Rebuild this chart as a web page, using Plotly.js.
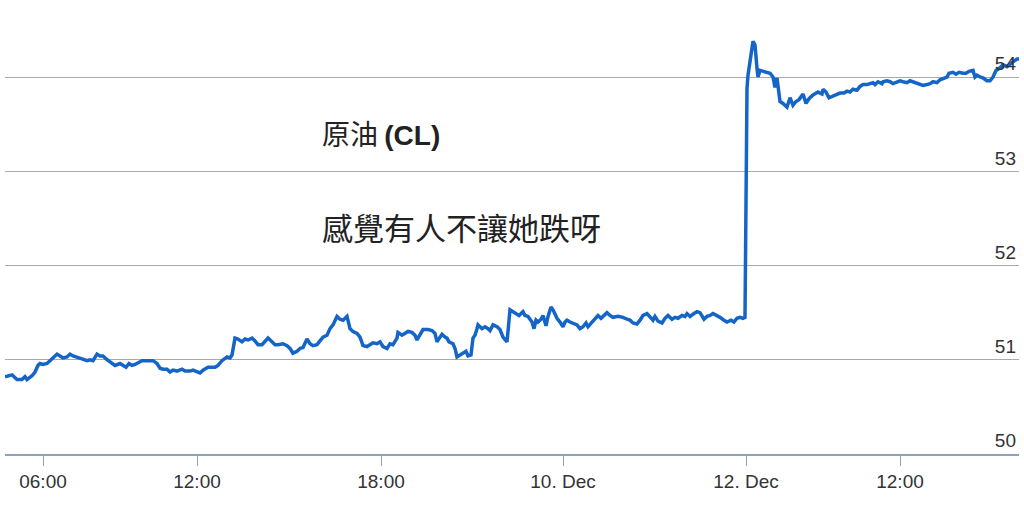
<!DOCTYPE html>
<html>
<head>
<meta charset="utf-8">
<script src="https://cdn.plot.ly/plotly-3.0.1.min.js"></script>
<style>
html,body{margin:0;padding:0;background:#fff;}
#chart{width:1024px;height:513px;}
</style>
</head>
<body>
<div id="chart"></div>
<script>
// ordinal positions along the (gap-skipping) time axis
const pos = [0,7,12,17,20,22,27,30,33,35,38,42,45,48,52,55,58,62,65,68,72,77,82,85,88,92,95,98,102,105,110,115,118,121,124,127,130,133,137,142,148,152,155,158,162,165,168,172,177,180,185,188,192,195,198,203,210,
213,217,222,225,227,230,233,237,240,243,247,250,253,257,260,263,267,270,273,278,282,285,288,292,295,298,302,305,308,312,315,318,322,325,328,332,335,338,342,345,348,352,355,358,362,365,368,372,375,378,382,385,388,392,393,397,400,403,407,
410,412,415,418,423,427,430,432,435,437,440,442,444,448,450,452,455,458,461,463,466,468,470,472,473,477,480,483,485,488,492,495,498,502,505,508,512,514,518,520,523,527,529,531,533,536,538,541,543,546,548,552,555,558,560,562,565,568,572,575,578,581,583,587,590,593,596,598,
602,605,608,613,618,622,625,628,632,635,638,642,645,648,650,653,657,660,663,667,670,673,677,680,682,685,689,692,695,699,702,705,708,712,715,719,722,726,729,732,735,738,740,
742,743,748,750,752,753,755,758,762,765,768,770,772,773,775,778,782,785,788,791,794,798,801,804,808,813,817,818,821,824,828,832,835,839,842,845,848,852,855,858,862,865,868,870,873,877,878,882,885,888,892,895,898,902,905,908,912,915,918,922,925,928,932,935,938,942,944,948,951,954,958,961,964,968,970,972,975,978,982,985,988,991,994,998,1002,1005,1008,1012,1014];

const price = [50.82,50.84,50.79,50.79,50.82,50.79,50.83,50.87,50.94,50.96,50.95,50.96,50.99,51.02,51.06,51.04,51.02,51.03,51.06,51.04,51.03,51.01,50.99,51.00,50.99,51.06,51.04,51.04,51.00,50.98,50.94,50.96,50.94,50.92,50.96,50.94,50.95,50.97,50.99,50.99,50.99,50.96,50.91,50.90,50.90,50.87,50.89,50.88,50.90,50.88,50.88,50.89,50.87,50.86,50.89,50.92,50.92,
50.94,50.99,51.03,51.02,51.05,51.23,51.22,51.19,51.22,51.21,51.23,51.20,51.16,51.16,51.19,51.23,51.19,51.16,51.16,51.17,51.15,51.12,51.07,51.09,51.12,51.13,51.22,51.17,51.15,51.16,51.20,51.24,51.26,51.33,51.37,51.46,51.43,51.42,51.46,51.33,51.30,51.28,51.24,51.15,51.14,51.16,51.18,51.17,51.19,51.14,51.12,51.17,51.16,51.23,51.29,51.26,51.28,51.30,51.29,
51.26,51.21,51.26,51.32,51.32,51.31,51.28,51.19,51.24,51.27,51.24,51.23,51.19,51.17,51.12,51.03,51.05,51.07,51.09,51.04,51.05,51.23,51.26,51.33,51.37,51.33,51.35,51.33,51.31,51.37,51.35,51.32,51.24,51.19,51.53,51.51,51.49,51.47,51.51,51.47,51.46,51.40,51.33,51.42,51.40,51.43,51.47,51.36,51.46,51.56,51.53,51.44,51.40,51.35,51.40,51.42,51.40,51.39,51.37,51.33,51.35,51.39,51.35,51.40,51.44,51.47,51.44,51.46,
51.50,51.47,51.45,51.46,51.45,51.43,51.42,51.39,51.38,51.42,51.47,51.49,51.46,51.42,51.46,51.41,51.39,51.44,51.47,51.43,51.45,51.44,51.47,51.46,51.49,51.46,51.49,51.51,51.50,51.43,51.46,51.47,51.49,51.47,51.45,51.42,51.40,51.42,51.40,51.44,51.45,51.44,51.45,
53.88,54.02,54.38,54.34,54.09,54.00,54.07,54.06,54.05,54.04,54.00,53.89,53.99,53.90,53.74,53.72,53.68,53.78,53.70,53.74,53.76,53.82,53.72,53.77,53.81,53.84,53.82,53.87,53.84,53.78,53.80,53.82,53.83,53.83,53.85,53.84,53.87,53.86,53.90,53.92,53.92,53.93,53.94,53.92,53.95,53.93,53.95,53.96,53.95,53.93,53.95,53.96,53.95,53.94,53.96,53.95,53.93,53.92,53.91,53.92,53.93,53.95,53.94,53.97,53.98,54.00,54.04,54.05,54.03,54.05,54.04,54.04,54.06,54.07,54.00,54.02,54.00,53.99,53.96,53.96,54.00,54.07,54.09,54.13,54.11,54.13,54.16,54.19,54.19];

const tickPos = [38,192,376,558,741,895];
const tickText = ['06:00','12:00','18:00','10. Dec','12. Dec','12:00'];
const yTicks = [50,51,52,53,54];
const titleText = '原油 <span style="font-family:Liberation Sans, Arial, sans-serif"><b>(CL)</b></span>';
const subtitleText = '感覺有人不讓她跌呀';

const tickFont = {family:'Liberation Sans, Arial, sans-serif', size:19, color:'#333'};

Plotly.newPlot('chart', [{
  x: pos, y: price, type:'scatter', mode:'lines',
  line:{color:'#1565c8', width:3.5, shape:'linear'},
  hoverinfo:'skip'
}], {
  width:1024, height:513,
  margin:{l:5, r:5, t:10, b:59},
  paper_bgcolor:'#fff', plot_bgcolor:'#fff',
  showlegend:false,
  xaxis:{
    range:[0,1014], tickmode:'array', tickvals:tickPos, ticktext:tickText,
    showgrid:false, zeroline:false, showline:true, linecolor:'#8aa4bd', linewidth:1.5,
    ticks:'outside', ticklen:10, tickcolor:'#8aa4bd', tickwidth:1,
    tickfont:tickFont, fixedrange:true
  },
  yaxis:{
    range:[50,54.711], side:'right', tickmode:'array', tickvals:yTicks,
    ticklabelposition:'inside top', showgrid:true, gridcolor:'#aaaaaa', gridwidth:1,
    zeroline:false, showline:false, ticks:'', tickfont:tickFont, fixedrange:true
  },
  annotations:[
    {xref:'paper', yref:'paper', x:0.3107, y:0.723, xanchor:'left', yanchor:'middle',
     text:titleText, showarrow:false, font:{family:'Noto Sans CJK TC, Liberation Sans, sans-serif', size:28, color:'#222'}},
    {xref:'paper', yref:'paper', x:0.3107, y:0.5135, xanchor:'left', yanchor:'middle',
     text:subtitleText, showarrow:false, font:{family:'Noto Sans CJK TC, sans-serif', size:31, color:'#222'}}
  ]
}, {displayModeBar:false, staticPlot:true});
</script>
</body>
</html>
